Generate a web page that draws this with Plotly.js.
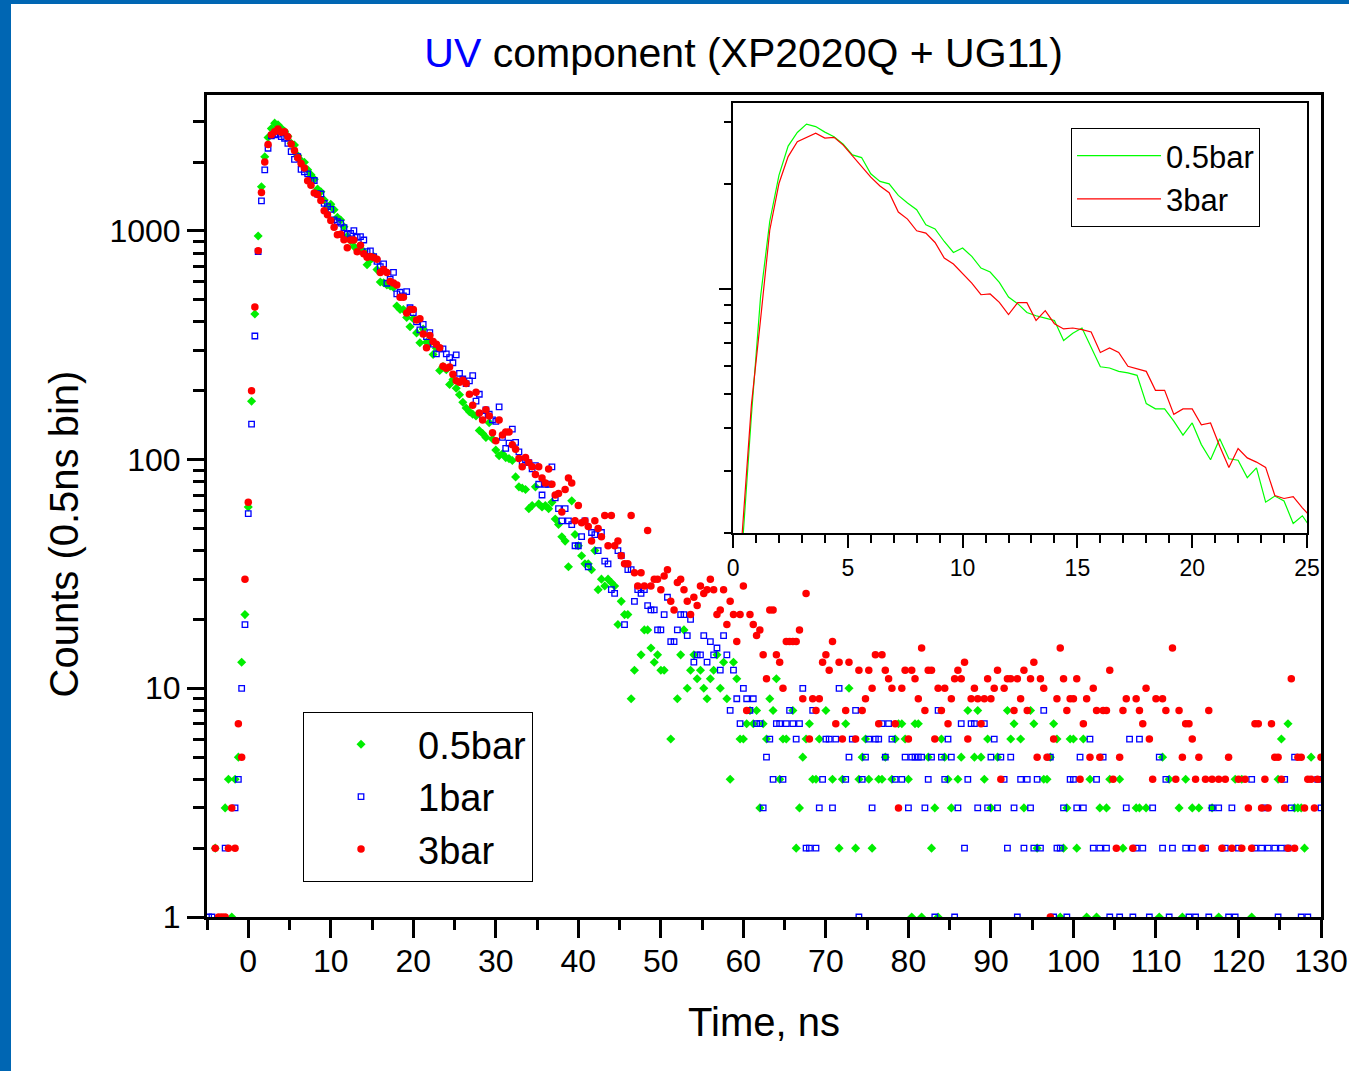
<!DOCTYPE html>
<html><head><meta charset="utf-8">
<script src="https://cdn.plot.ly/plotly-3.0.1.min.js"></script>
<style>
html,body{margin:0;padding:0;background:#fff;width:1349px;height:1071px;overflow:hidden}
#chart{position:absolute;left:0;top:0;width:1349px;height:1071px}
.bar{position:absolute;background:#0066b3;z-index:10}
</style></head><body>
<div id="chart"></div>
<div class="bar" style="left:0;top:0;width:11px;height:1071px"></div>
<div class="bar" style="left:0;top:0;width:1349px;height:4px"></div>
<script>
// bin times (ns)
const timeNs = [
-4.8,-4.4,-4,-3.6,-3.2,-2.8,-2.4,-2,-1.6,-1.2,
-0.8,-0.4,0,0.4,0.8,1.2,1.6,2,2.4,2.8,
3.2,3.6,4,4.4,4.8,5.2,5.6,6,6.4,6.8,
7.2,7.6,8,8.4,8.8,9.2,9.6,10,10.4,10.8,
11.2,11.6,12,12.4,12.8,13.2,13.6,14,14.4,14.8,
15.2,15.6,16,16.4,16.8,17.2,17.6,18,18.4,18.8,
19.2,19.6,20,20.4,20.8,21.2,21.6,22,22.4,22.8,
23.2,23.6,24,24.4,24.8,25.2,25.6,26,26.4,26.8,
27.2,27.6,28,28.4,28.8,29.2,29.6,30,30.4,30.8,
31.2,31.6,32,32.4,32.8,33.2,33.6,34,34.4,34.8,
35.2,35.6,36,36.4,36.8,37.2,37.6,38,38.4,38.8,
39.2,39.6,40,40.4,40.8,41.2,41.6,42,42.4,42.8,
43.2,43.6,44,44.4,44.8,45.2,45.6,46,46.4,46.8,
47.2,47.6,48,48.4,48.8,49.2,49.6,50,50.4,50.8,
51.2,51.6,52,52.4,52.8,53.2,53.6,54,54.4,54.8,
55.2,55.6,56,56.4,56.8,57.2,57.6,58,58.4,58.8,
59.2,59.6,60,60.4,60.8,61.2,61.6,62,62.4,62.8,
63.2,63.6,64,64.4,64.8,65.2,65.6,66,66.4,66.8,
67.2,67.6,68,68.4,68.8,69.2,69.6,70,70.4,70.8,
71.2,71.6,72,72.4,72.8,73.2,73.6,74,74.4,74.8,
75.2,75.6,76,76.4,76.8,77.2,77.6,78,78.4,78.8,
79.2,79.6,80,80.4,80.8,81.2,81.6,82,82.4,82.8,
83.2,83.6,84,84.4,84.8,85.2,85.6,86,86.4,86.8,
87.2,87.6,88,88.4,88.8,89.2,89.6,90,90.4,90.8,
91.2,91.6,92,92.4,92.8,93.2,93.6,94,94.4,94.8,
95.2,95.6,96,96.4,96.8,97.2,97.6,98,98.4,98.8,
99.2,99.6,100,100.4,100.8,101.2,101.6,102,102.4,102.8,
103.2,103.6,104,104.4,104.8,105.2,105.6,106,106.4,106.8,
107.2,107.6,108,108.4,108.8,109.2,109.6,110,110.4,110.8,
111.2,111.6,112,112.4,112.8,113.2,113.6,114,114.4,114.8,
115.2,115.6,116,116.4,116.8,117.2,117.6,118,118.4,118.8,
119.2,119.6,120,120.4,120.8,121.2,121.6,122,122.4,122.8,
123.2,123.6,124,124.4,124.8,125.2,125.6,126,126.4,126.8,
127.2,127.6,128,128.4,128.8,129.2,129.6,130];

// counts per bin (0 = empty bin, not drawn on the log scale)
const counts05bar = [
0,0,2,0,0,3,4,1,4,5,13,21,
62,180,433,950,1560,2110,2560,2800,2958,2910,2806,2723,2590,2415,2373,2133,2028,1995,1849,1758,1683,1524,1483,1365,1270,1307,1237,1146,1116,1042,947,906,855,837,824,811,711,746,772,677,598,593,580,574,565,469,453,453,418,381,413,358,324,372,326,323,288,307,245,255,247,213,224,
205,192,178,168,162,158,155,134,130,125,145,123,110,104,106,102,101,99,84,76,75,74,61,63,76,64,62,63,61,65,55,52,46,44,34,66,47,42,38,35,35,33,40,27,30,28,30,29,28,19,24,21,21,9,12,0,14,18,18,15,13,14,12,12,0,6,0,9,
14,18,10,12,14,11,12,10,9,11,12,14,10,13,9,4,13,11,6,6,7,8,7,8,3,7,6,9,8,11,4,6,6,0,8,2,3,5,6,7,4,4,6,0,8,0,4,0,2,4,7,10,0,2,4,5,6,4,2,0,4,4,5,0,4,6,7,
7,6,4,1,7,7,1,0,5,2,3,1,6,5,4,3,0,4,5,0,8,0,5,8,5,4,6,3,0,5,0,0,8,6,7,0,6,3,0,8,7,2,0,4,4,5,7,6,1,2,3,6,6,2,0,6,1,4,0,1,3,0,3,4,0,0,4,2,0,0,0,3,3,0,3,0,0,0,1,5,0,4,0,0,3,1,4,0,3,0,3,0,0,0,3,0,1,0,0,0,0,4,0,4,0,0,1,0,0,0,0,0,0,0,4,6,0,7,0,3,3,3,2,0,5,0,0,0];

const counts1bar = [
1,1,0,0,0,2,0,0,3,4,10,19,
58,143,347,811,1352,1846,2297,2600,2626,2650,2580,2540,2415,2220,2055,2110,1858,1810,1774,1660,1660,1449,1449,1320,1276,1242,1116,1097,1080,1033,966,975,1002,937,944,912,811,817,771,735,697,717,590,614,659,530,539,520,542,461,439,400,369,390,345,359,320,290,305,305,290,279,265,
287,238,225,215,221,233,180,193,155,165,158,149,147,170,125,112,118,136,119,108,98,100,97,91,94,78,70,78,78,93,68,61,54,61,54,52,42,42,46,54,34,48,47,40,48,36,35,27,26,40,38,19,33,33,24,27,26,27,23,22,22,18,18,21,25,16,16,18,
21,21,17,20,13,14,14,17,13,16,14,15,12,17,14,8,12,9,7,10,9,8,9,7,7,3,5,6,4,7,7,4,7,8,7,6,7,10,2,2,8,2,3,4,6,6,3,6,10,0,4,5,6,8,1,4,5,6,3,6,6,7,5,7,6,4,0,
4,5,3,5,5,5,5,3,4,5,1,8,5,4,6,5,1,3,7,2,4,7,7,3,0,7,3,5,6,3,5,4,2,5,3,1,4,2,4,3,2,4,2,8,0,5,1,2,2,3,1,4,4,3,5,3,0,6,2,4,2,5,2,1,0,0,1,0,3,6,1,2,6,2,0,1,3,0,5,2,4,1,2,0,0,0,2,1,2,1,0,0,2,1,3,0,3,0,2,1,3,1,2,0,0,0,4,2,0,2,3,2,0,2,1,2,4,2,3,5,0,1,0,1,0,0,4,3];

const counts3bar = [
0,0,2,1,1,1,2,3,2,7,5,30,
65,200,465,818,1470,2000,2388,2634,2710,2785,2697,2710,2576,2400,2245,2085,1968,1883,1657,1582,1465,1443,1356,1224,1177,1109,1038,961,966,914,843,912,912,811,865,794,767,772,764,752,657,677,657,600,591,580,512,512,437,453,453,408,413,354,308,349,328,319,308,256,251,254,236,
221,218,222,215,193,173,197,160,149,165,155,131,121,149,128,132,132,116,111,101,93,102,97,93,86,93,83,79,91,78,70,71,59,74,83,79,54,63,53,54,51,44,54,50,46,57,42,57,42,44,38,35,35,57,32,28,32,28,49,28,30,30,27,31,33,24,22,29,
30,27,24,21,25,23,28,26,27,30,27,21,22,27,19,24,21,16,21,28,8,21,19,17,18,14,11,22,22,14,13,10,16,16,16,16,18,9,26,6,9,8,9,13,14,12,16,7,13,6,8,13,0,6,12,8,9,12,10,14,7,14,12,11,10,7,3,
10,12,6,12,11,9,15,8,12,12,6,10,8,10,7,9,11,12,11,13,6,9,10,9,7,9,11,9,10,12,4,10,11,11,8,11,9,12,8,11,13,5,11,10,5,1,6,9,15,11,8,9,9,11,4,7,9,5,10,8,5,8,8,12,4,2,5,8,9,0,2,9,8,7,10,6,4,9,0,9,8,0,15,4,8,5,7,7,6,4,5,2,4,8,4,0,4,2,4,5,2,0,4,2,4,3,2,7,7,3,4,3,7,5,5,4,3,2,11,2,5,5,3,4,4,3,4,5];

const seriesNames = ['0.5bar', '1bar', '3bar'];
const xTickVals = [0,10,20,30,40,50,60,70,80,90,100,110,120,130];
const xMinorVals = [-5,5,15,25,35,45,55,65,75,85,95,105,115,125];
const yTickVals = [1,10,100,1000];
const yTickText = ['1','10','100','1000'];
const yMinorVals = [2,3,4,5,6,7,8,9,20,30,40,50,60,70,80,90,200,300,400,500,600,700,800,900,2000,3000];
const insetRange = [0, 25];
const insetXTicks = [0,5,10,15,20,25];
const insetXMinor = [1,2,3,4,6,7,8,9,11,12,13,14,16,17,18,19,21,22,23,24];
const insetYMinor = [200,300,400,500,600,700,800,900,2000,3000];
const yTitleText = 'Counts (0.5ns bin)';

const FONT = 'Arial, "Liberation Sans", sans-serif';
const GREEN = '#00ee00', BLUE = '#0000ff', RED = '#ff0000';

const pos = a => a.map(v => (v > 0 ? v : null));
const insetIdx = timeNs.map((t, i) => i).filter(i => timeNs[i] >= insetRange[0] - 0.5 && timeNs[i] <= insetRange[1] + 0.5);
const pick = a => insetIdx.map(i => a[i]);

const traces = [
  {type:'scatter', mode:'markers', name:seriesNames[0], x:timeNs, y:pos(counts05bar), legend:'legend',
   marker:{symbol:'diamond', size:7, color:GREEN, line:{width:0}}},
  {type:'scatter', mode:'markers', name:seriesNames[1], x:timeNs, y:pos(counts1bar), legend:'legend',
   marker:{symbol:'square-open', size:5.5, color:BLUE, line:{width:1.3, color:BLUE}}},
  {type:'scatter', mode:'markers', name:seriesNames[2], x:timeNs, y:pos(counts3bar), legend:'legend',
   marker:{symbol:'circle', size:7.5, color:RED, line:{width:0}}},
  {type:'scatter', mode:'lines', name:seriesNames[0], x:pick(timeNs), y:pick(counts05bar), xaxis:'x2', yaxis:'y2', legend:'legend2',
   line:{color:'#00ff00', width:1.2}},
  {type:'scatter', mode:'lines', name:seriesNames[2], x:pick(timeNs), y:pick(counts3bar), xaxis:'x2', yaxis:'y2', legend:'legend2',
   line:{color:'#ff0000', width:1.2}}
];

const axisCommon = {showline:true, linecolor:'#000', mirror:true, ticks:'outside', tickcolor:'#000',
  showgrid:false, zeroline:false, tickmode:'array'};

const layout = {
  width:1349, height:1071,
  margin:{l:207, r:28, t:95, b:154, pad:0},
  paper_bgcolor:'#ffffff', plot_bgcolor:'rgba(0,0,0,0)',
  font:{family:FONT, color:'#000', size:32},
  title:{text:'<span style="color:#0000ff">UV</span> component (XP2020Q + UG11)',
    font:{family:FONT, size:41, color:'#000'}, x:0.5512, xref:'container', xanchor:'center',
    y:0.9505, yref:'container', yanchor:'middle'},
  showlegend:true,
  xaxis:Object.assign({}, axisCommon, {domain:[0,1], anchor:'y', range:[-5,130], linewidth:3,
    ticklen:18, tickwidth:3, tickvals:xTickVals, tickfont:{size:32}, ticklabelstandoff:-4,
    minor:{tickmode:'array', tickvals:xMinorVals, ticks:'outside', ticklen:10, tickwidth:3, tickcolor:'#000', showgrid:false},
    title:{text:'Time, ns', font:{size:40}, standoff:30}}),
  yaxis:Object.assign({}, axisCommon, {domain:[0,1], anchor:'x', type:'log', range:[0,3.594], linewidth:3,
    ticklen:17, tickwidth:3, tickvals:yTickVals, ticktext:yTickText, tickfont:{size:32},
    minor:{tickmode:'array', tickvals:yMinorVals, ticks:'outside', ticklen:11, tickwidth:3, tickcolor:'#000', showgrid:false}}),
  xaxis2:Object.assign({}, axisCommon, {domain:[0.4722,0.9874], anchor:'y2', range:insetRange, linewidth:2,
    ticklen:13, tickwidth:2, tickvals:insetXTicks, tickfont:{size:23},
    minor:{tickmode:'array', tickvals:insetXMinor, ticks:'outside', ticklen:8, tickwidth:2, tickcolor:'#000', showgrid:false}}),
  yaxis2:Object.assign({}, axisCommon, {domain:[0.4672,0.9903], anchor:'x2', type:'log', range:[2.30103,3.5315], linewidth:2,
    ticklen:12, tickwidth:2, tickvals:[1000], showticklabels:false,
    minor:{tickmode:'array', tickvals:insetYMinor, ticks:'outside', ticklen:7, tickwidth:2, tickcolor:'#000', showgrid:false}}),
  legend:{x:0.0862, y:0.2494, xanchor:'left', yanchor:'top', bgcolor:'#ffffff', bordercolor:'#000', borderwidth:1,
    font:{size:38, color:'#000'}, itemwidth:104, traceorder:'normal'},
  legend2:{x:0.7756, y:0.9599, xanchor:'left', yanchor:'top', bgcolor:'#ffffff', bordercolor:'#000', borderwidth:1,
    font:{size:31, color:'#000'}, itemwidth:84, traceorder:'normal'},
  annotations:[{text:yTitleText, textangle:-90, xref:'paper', yref:'paper', x:-0.1284, y:0.4666,
    xanchor:'center', yanchor:'middle', showarrow:false, font:{family:FONT, size:40, color:'#000'}}]
};

Plotly.newPlot('chart', traces, layout, {displayModeBar:false, staticPlot:true});
</script>
</body></html>
